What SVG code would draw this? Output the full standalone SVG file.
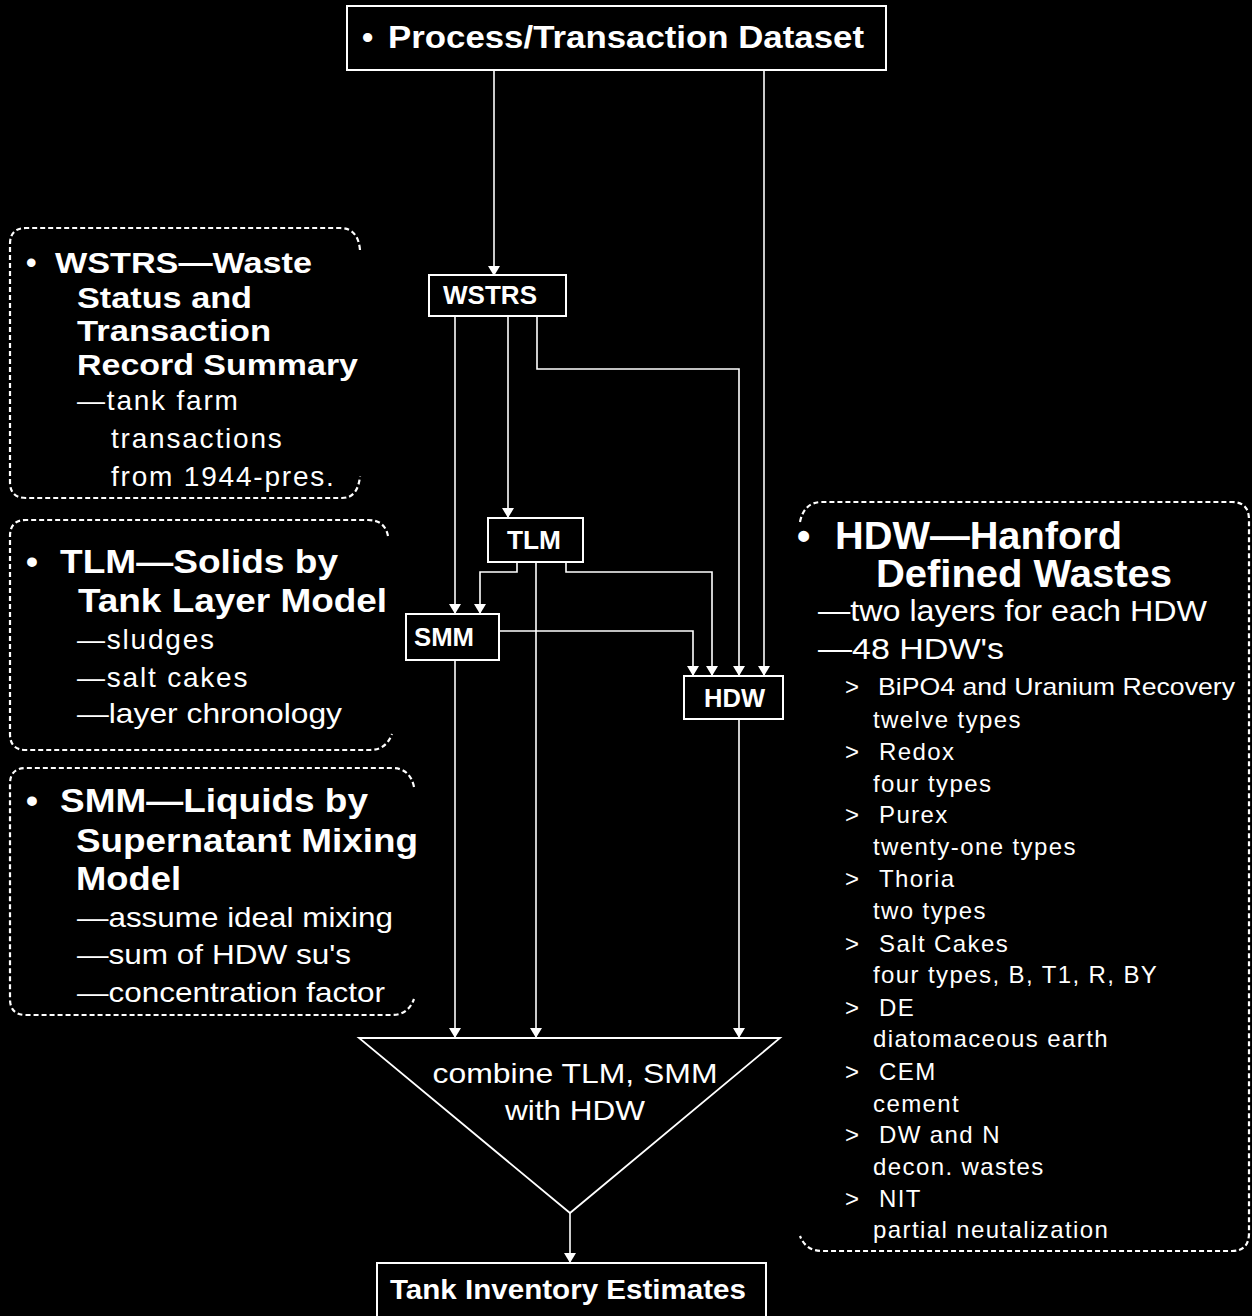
<svg xmlns="http://www.w3.org/2000/svg" width="1252" height="1316" viewBox="0 0 1252 1316">
<defs>
<marker id="arr" viewBox="0 0 10 12" refX="10" refY="6" markerWidth="10" markerHeight="12" markerUnits="userSpaceOnUse" orient="auto">
<path d="M0,0 L10,6 L0,12 Z" fill="#fff"/>
</marker>
<style>
text{font-family:"Liberation Sans",Arial,sans-serif;fill:#fff}
.b{font-weight:bold}
.r{letter-spacing:1.8px}
.it{letter-spacing:1.4px}
.box{fill:#000;stroke:#fff;stroke-width:2}
.ln{fill:none;stroke:#fff;stroke-width:1.6}
.call{fill:none;stroke:#fff;stroke-width:2.2;stroke-dasharray:5 3}
</style>
</defs>
<rect x="0" y="0" width="1252" height="1316" fill="#000"/>

<g id="connectors">
<path class="ln" d="M494,70 V276" marker-end="url(#arr)"/>
<path class="ln" d="M764,70 V676" marker-end="url(#arr)"/>
<path class="ln" d="M455,316 V614" marker-end="url(#arr)"/>
<path class="ln" d="M508,316 V518" marker-end="url(#arr)"/>
<path class="ln" d="M537,316 V369 H739 V676" marker-end="url(#arr)"/>
<path class="ln" d="M517,562 V572 H480 V614" marker-end="url(#arr)"/>
<path class="ln" d="M566,562 V572 H712 V676" marker-end="url(#arr)"/>
<path class="ln" d="M499,631 H693 V676" marker-end="url(#arr)"/>
<path class="ln" d="M455,660 V1038" marker-end="url(#arr)"/>
<path class="ln" d="M536,562 V1038" marker-end="url(#arr)"/>
<path class="ln" d="M739,719 V1038" marker-end="url(#arr)"/>
<path class="ln" d="M570,1213 V1263" marker-end="url(#arr)"/>
</g>

<g id="process-dataset">
<rect class="box" x="347" y="6" width="539" height="64"/>
<text class="b" x="362" y="48" font-size="32">•</text>
<text class="b" x="388" y="48" font-size="32" textLength="476" lengthAdjust="spacingAndGlyphs">Process/Transaction Dataset</text>
</g>

<g id="wstrs">
<rect class="box" x="429" y="275" width="137" height="41"/>
<text class="b" x="443" y="304" font-size="25" textLength="94" lengthAdjust="spacingAndGlyphs">WSTRS</text>
</g>

<g id="tlm">
<rect class="box" x="488" y="518" width="95" height="44"/>
<text class="b" x="507" y="549" font-size="25" textLength="54" lengthAdjust="spacingAndGlyphs">TLM</text>
</g>

<g id="smm">
<rect class="box" x="406" y="614" width="93" height="46"/>
<text class="b" x="414" y="646" font-size="25" textLength="60" lengthAdjust="spacingAndGlyphs">SMM</text>
</g>

<g id="hdw">
<rect class="box" x="684" y="676" width="99" height="43"/>
<text class="b" x="704" y="707" font-size="25" textLength="61" lengthAdjust="spacingAndGlyphs">HDW</text>
</g>

<g id="combine">
<path d="M359,1038 L780,1038 L570,1213 Z" fill="#000" stroke="#fff" stroke-width="1.8"/>
<text x="575" y="1083" font-size="28" text-anchor="middle" textLength="285" lengthAdjust="spacingAndGlyphs">combine TLM, SMM</text>
<text x="575" y="1120" font-size="28" text-anchor="middle" textLength="140" lengthAdjust="spacingAndGlyphs">with HDW</text>
</g>

<g id="tank-inventory">
<rect class="box" x="377" y="1263" width="389" height="60"/>
<text class="b" x="390" y="1299" font-size="27" textLength="356" lengthAdjust="spacingAndGlyphs">Tank Inventory Estimates</text>
</g>

<g id="note-wstrs">
<path class="call" d="M360,250 Q358,228 340,228 H26 Q10,228 10,244 V482 Q10,498 26,498 H342 Q358,498 360,476"/>
<text class="b" x="26" y="273" font-size="30">•</text>
<text class="b" x="55" y="273" font-size="30" textLength="257" lengthAdjust="spacingAndGlyphs">WSTRS—Waste</text>
<text class="b" x="77" y="308" font-size="30" textLength="175" lengthAdjust="spacingAndGlyphs">Status and</text>
<text class="b" x="77" y="341" font-size="30" textLength="194" lengthAdjust="spacingAndGlyphs">Transaction</text>
<text class="b" x="77" y="375" font-size="30" textLength="281" lengthAdjust="spacingAndGlyphs">Record Summary</text>
<text class="r" x="77" y="410" font-size="28">—tank farm</text>
<text class="r" x="111" y="448" font-size="28">transactions</text>
<text class="r" x="111" y="486" font-size="28">from 1944-pres.</text>
</g>

<g id="note-tlm">
<path class="call" d="M388,536 Q385,520 368,520 H26 Q10,520 10,536 V734 Q10,750 26,750 H370 Q386,750 392,734"/>
<text class="b" x="26" y="573" font-size="34">•</text>
<text class="b" x="60" y="573" font-size="34" textLength="278" lengthAdjust="spacingAndGlyphs">TLM—Solids by</text>
<text class="b" x="78" y="612" font-size="34" textLength="309" lengthAdjust="spacingAndGlyphs">Tank Layer Model</text>
<text class="r" x="77" y="649" font-size="28">—sludges</text>
<text class="r" x="77" y="687" font-size="28">—salt cakes</text>
<text x="77" y="723" font-size="28" textLength="265" lengthAdjust="spacingAndGlyphs">—layer chronology</text>
</g>

<g id="note-smm">
<path class="call" d="M414,787 Q410,768 392,768 H26 Q10,768 10,784 V999 Q10,1015 26,1015 H392 Q408,1015 414,999"/>
<text class="b" x="26" y="812" font-size="34">•</text>
<text class="b" x="60" y="812" font-size="34" textLength="308" lengthAdjust="spacingAndGlyphs">SMM—Liquids by</text>
<text class="b" x="76" y="852" font-size="34" textLength="342" lengthAdjust="spacingAndGlyphs">Supernatant Mixing</text>
<text class="b" x="76" y="890" font-size="34" textLength="105" lengthAdjust="spacingAndGlyphs">Model</text>
<text x="77" y="927" font-size="28" textLength="316" lengthAdjust="spacingAndGlyphs">—assume ideal mixing</text>
<text x="77" y="964" font-size="28" textLength="274" lengthAdjust="spacingAndGlyphs">—sum of HDW su's</text>
<text x="77" y="1002" font-size="28" textLength="308" lengthAdjust="spacingAndGlyphs">—concentration factor</text>
</g>

<g id="note-hdw">
<path class="call" d="M800,522 Q804,502 822,502 H1232 Q1249,502 1249,520 V1233 Q1249,1251 1232,1251 H822 Q806,1251 800,1236"/>
<text class="b" x="797" y="549" font-size="38">•</text>
<text class="b" x="835" y="549" font-size="38" textLength="287" lengthAdjust="spacingAndGlyphs">HDW—Hanford</text>
<text class="b" x="876" y="587" font-size="38" textLength="296" lengthAdjust="spacingAndGlyphs">Defined Wastes</text>
<text x="818" y="621" font-size="30" textLength="389" lengthAdjust="spacingAndGlyphs">—two layers for each HDW</text>
<text x="818" y="659" font-size="30" textLength="186" lengthAdjust="spacingAndGlyphs">—48 HDW's</text>
<g font-size="24">
<text x="845" y="695">&gt;</text><text x="878" y="695" textLength="357" lengthAdjust="spacingAndGlyphs">BiPO4 and Uranium Recovery</text>
<text class="it" x="873" y="728">twelve types</text>
<text x="845" y="760">&gt;</text><text class="it" x="879" y="760">Redox</text>
<text class="it" x="873" y="792">four types</text>
<text x="845" y="823">&gt;</text><text class="it" x="879" y="823">Purex</text>
<text class="it" x="873" y="855">twenty-one types</text>
<text x="845" y="887">&gt;</text><text class="it" x="879" y="887">Thoria</text>
<text class="it" x="873" y="919">two types</text>
<text x="845" y="952">&gt;</text><text class="it" x="879" y="952">Salt Cakes</text>
<text class="it" x="873" y="983">four types, B, T1, R, BY</text>
<text x="845" y="1016">&gt;</text><text class="it" x="879" y="1016">DE</text>
<text class="it" x="873" y="1047">diatomaceous earth</text>
<text x="845" y="1080">&gt;</text><text class="it" x="879" y="1080">CEM</text>
<text class="it" x="873" y="1112">cement</text>
<text x="845" y="1143">&gt;</text><text class="it" x="879" y="1143">DW and N</text>
<text class="it" x="873" y="1175">decon. wastes</text>
<text x="845" y="1207">&gt;</text><text class="it" x="879" y="1207">NIT</text>
<text class="it" x="873" y="1238">partial neutalization</text>
</g>
</g>
</svg>
